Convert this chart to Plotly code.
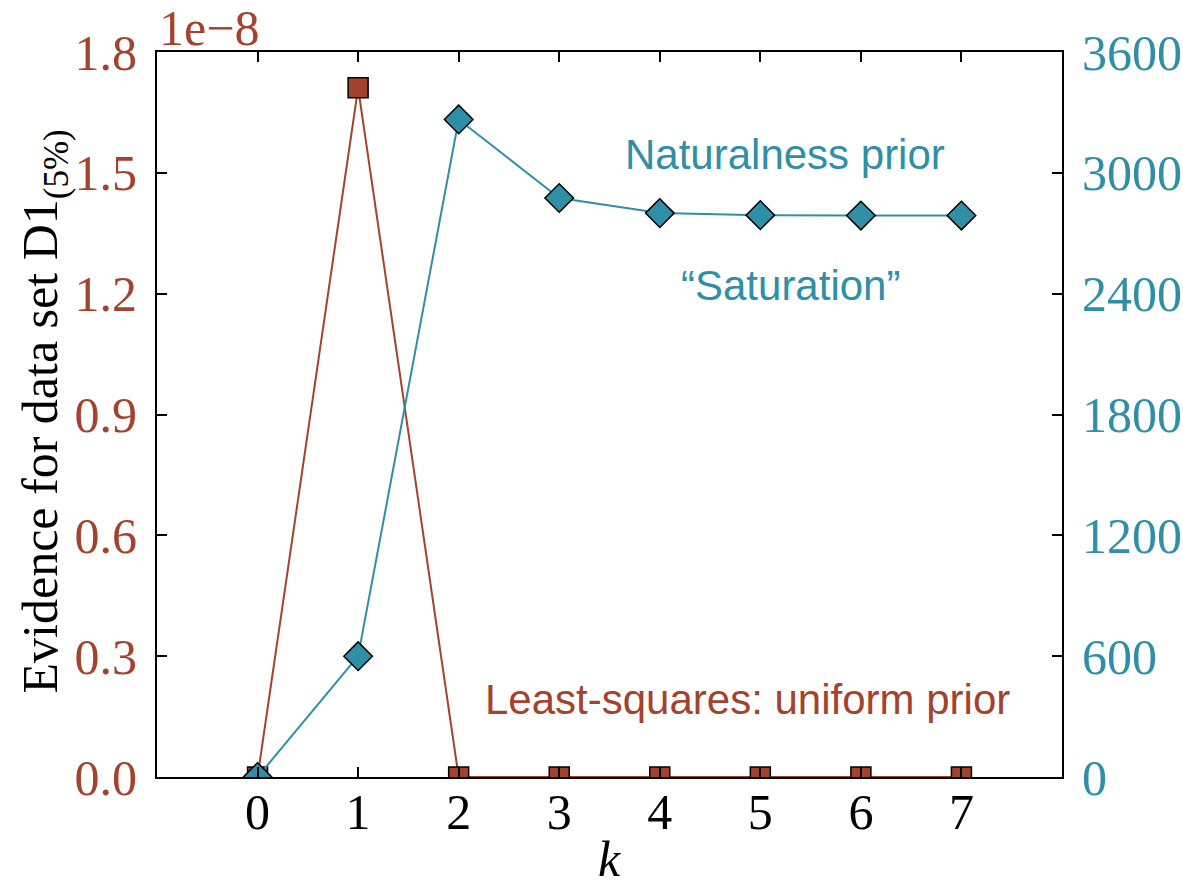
import plotly.graph_objects as go

k = [0, 1, 2, 3, 4, 5, 6, 7]
evidence_ls = [0.0, 1.711e-8, 0.0, 0.0, 0.0, 0.0, 0.0, 0.0]
evidence_nat = [0, 600, 3265, 2875, 2800, 2790, 2788, 2788]

x_ticks = [0, 1, 2, 3, 4, 5, 6, 7]
y_ticks = [0, 0.3e-8, 0.6e-8, 0.9e-8, 1.2e-8, 1.5e-8, 1.8e-8]
y_tick_text = ["0.0", "0.3", "0.6", "0.9", "1.2", "1.5", "1.8"]
y2_ticks = [0, 600, 1200, 1800, 2400, 3000, 3600]

RED = "#A3422D"
TEAL = "#2F8FA6"
SERIF = "Liberation Serif, Times New Roman, serif"
SANS = "Liberation Sans, Arial, sans-serif"

fig = go.Figure()
fig.add_trace(go.Scatter(
    x=k, y=evidence_ls, mode="lines+markers", yaxis="y",
    line=dict(color=RED, width=2),
    marker=dict(symbol="square", size=20, color=RED, line=dict(color="black", width=1.5)),
    cliponaxis=True, showlegend=False))
fig.add_trace(go.Scatter(
    x=k, y=evidence_nat, mode="lines+markers", yaxis="y2",
    line=dict(color=TEAL, width=2),
    marker=dict(symbol="diamond", size=22, color=TEAL, line=dict(color="black", width=1.5)),
    cliponaxis=True, showlegend=False))

fig.update_layout(
    width=1183, height=890,
    margin=dict(l=157, r=121, t=52, b=113),
    paper_bgcolor="white", plot_bgcolor="white",
    xaxis=dict(range=[-1, 8], tickvals=x_ticks, ticks="inside", ticklen=10, tickwidth=1.5,
               tickcolor="black", showline=True, linecolor="black", linewidth=2, mirror="ticks",
               showgrid=False, zeroline=False, automargin=False,
               tickfont=dict(family=SERIF, size=50, color="black"), ticklabelstandoff=-10),
    yaxis=dict(range=[0, 1.8e-8], tickvals=y_ticks, ticktext=y_tick_text, ticks="inside",
               ticklen=10, tickwidth=1.5, tickcolor="black", showline=True, linecolor="black",
               linewidth=2, showgrid=False, zeroline=False, automargin=False,
               tickfont=dict(family=SERIF, size=50, color=RED), ticklabelstandoff=8),
    yaxis2=dict(range=[0, 3600], tickvals=y2_ticks, overlaying="y", side="right", ticks="inside",
                ticklen=10, tickwidth=1.5, tickcolor="black", showline=True, linecolor="black",
                linewidth=2, showgrid=False, zeroline=False, automargin=False,
                tickfont=dict(family=SERIF, size=50, color=TEAL), ticklabelstandoff=8),
)

fig.add_annotation(xref="paper", yref="paper", x=0, y=1, xanchor="left", yanchor="bottom",
                   yshift=-6, xshift=0, text="1e\u22128", showarrow=False,
                   font=dict(family=SERIF, size=50, color=RED))
fig.add_annotation(xref="paper", yref="paper", x=-0.125, y=0.504, xanchor="center", yanchor="middle",
                   textangle=-90, text="Evidence for data set D1<sub>(5%)</sub>", showarrow=False,
                   font=dict(family=SERIF, size=50, color="black"))
fig.add_annotation(xref="x", yref="paper", x=3.5, y=0, xanchor="center", yanchor="top",
                   yshift=-52, text="<i>k</i>", showarrow=False,
                   font=dict(family=SERIF, size=50, color="black"))
fig.add_annotation(xref="x", yref="y2", x=5.25, y=3090, text="Naturalness prior", showarrow=False,
                   font=dict(family=SANS, size=42, color=TEAL))
fig.add_annotation(xref="x", yref="y2", x=5.3, y=2440, text="\u201cSaturation\u201d", showarrow=False,
                   font=dict(family=SANS, size=42, color=TEAL))
fig.add_annotation(xref="x", yref="y2", x=4.87, y=385, text="Least-squares: uniform prior", showarrow=False,
                   font=dict(family=SANS, size=42, color=RED))

fig.write_html("out.html")
